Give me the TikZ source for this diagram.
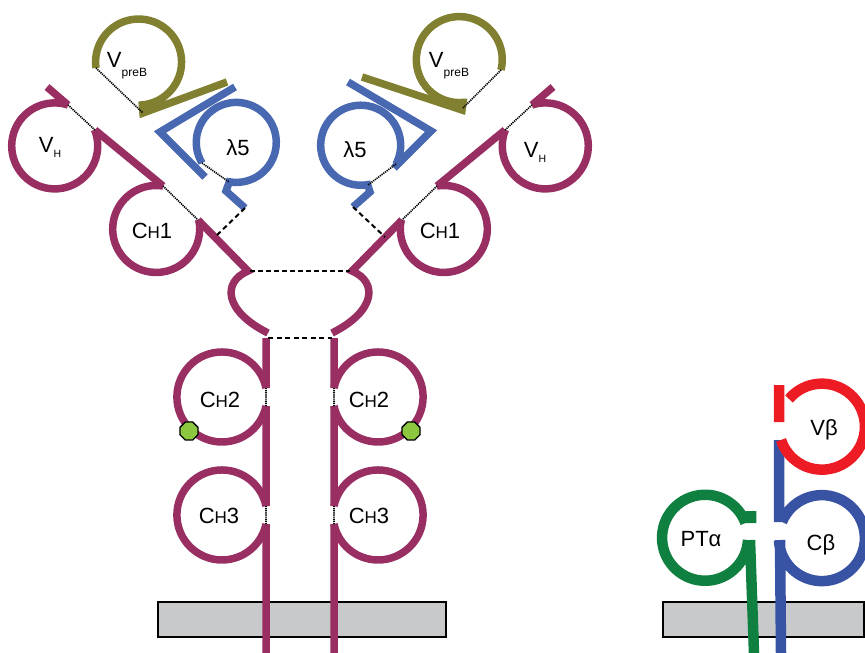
\documentclass[tikz,border=0pt]{standalone}
\usepackage{fontspec}
\setmainfont{Liberation Sans}
\usetikzlibrary{shapes.geometric}

\definecolor{heavy}{RGB}{152,46,98}
\definecolor{vpreb}{RGB}{128,128,48}
\definecolor{lamb}{RGB}{72,104,178}
\definecolor{vbeta}{RGB}{237,28,36}
\definecolor{cbeta}{RGB}{57,83,164}
\definecolor{ptalpha}{RGB}{16,128,64}
\definecolor{sugar}{RGB}{141,198,63}
\definecolor{membrane}{RGB}{200,201,203}

% domain labels: C with a small-cap H, V with a lowered tag
\newcommand{\chname}[1]{C{\fontsize{17}{17}\selectfont H}#1}
\newcommand{\vname}[3]{V\raisebox{-#2pt}{\fontsize{#3}{#3}\selectfont #1}}

\begin{document}
\begin{tikzpicture}[x=1pt, y=-1pt,
  chain/.style={line width=7.5pt},
  tcr/.style={line width=10.5pt},
  ssbond/.style={line width=1.6pt, dash pattern=on 1.2pt off 0.9pt},
  link/.style={line width=2pt, dash pattern=on 5pt off 3.5pt},
  glyco/.style={regular polygon, regular polygon sides=8, minimum size=19.5pt,
    inner sep=0pt, fill=sugar, draw=black, line width=1.4pt},
  lab/.style={font=\fontsize{22}{24}\selectfont, anchor=base, inner sep=0pt}]
\useasboundingbox (0,0) rectangle (865,653);
% membranes
\draw[line width=1.8pt, fill=membrane] (158,602) rectangle (446,637);
\draw[line width=1.8pt, fill=membrane] (663,602) rectangle (864,637);
% two heavy chains, the right one mirrored about x=300
\foreach \s/\off/\nm in {1/0/l, -1/600/r} {
\begin{scope}[xshift=\off pt, xscale=\s]
  \draw[chain, heavy] (47,87) -- (68,105) (95,130) -- (163,186)
    (198,220) -- (248,271) .. controls (222,282) and (224,311) .. (268,333)
    (266,338) -- (266,388) (266,406) -- (266,506) (266,524) -- (266,653);
  \draw[chain, heavy] (68,105) arc[start angle=-72, end angle=-382, radius=43]
    (163,186) arc[start angle=-81, end angle=-372, radius=43.5]
    (266,388) arc[start angle=-11.5, end angle=-348.5, radius=45]
    (266,506) arc[start angle=-11.5, end angle=-348.5, radius=45];
  \draw[ssbond] (68,105) -- (95,130) (163,186) -- (198,220)
    (266,388) -- (266,406) (266,506) -- (266,524);
  \node[glyco] (glyco-\nm) at (189,431) {};
\end{scope}
}
% surrogate light chains
\draw[chain, vpreb] (96,68) arc[start angle=172, end angle=445, radius=43] -- (143,113) -- (227,82);
\draw[chain, vpreb] (501,70) arc[start angle=14, end angle=-275, radius=43] -- (462,110) -- (362,77);
\draw[chain, lamb] (235,87) -- (160,132) -- (205,177);
\draw[chain, lamb] (202,163) arc[start angle=149, end angle=460, radius=40] -- (226,191) -- (245,208);
\draw[chain, lamb] (348,82) -- (431,131) -- (394,168);
\draw[chain, lamb] (396,164) arc[start angle=28, end angle=-280, radius=40] -- (370,192) -- (353,207);
\draw[ssbond] (96,68) -- (143,113) (501,70) -- (463,108) (202,163) -- (229,182) (396,164) -- (368,185);
\draw[link] (245,208) -- (215,237) (353,207) -- (385,237);
% links between the heavy chains
\draw[line width=1.1pt, dash pattern=on 5pt off 3pt] (250,271) -- (350,271);
\draw[link] (268,338) -- (332,338);
% pre-TCR
\draw[tcr, ptalpha] (748,540) arc[start angle=3, end angle=340, radius=43]
  (751,511) -- (751,523) (750,540) -- (754,653);
\draw[tcr, cbeta] (779,440) -- (779,522) (780,540) -- (781,653)
  (782,522) arc[start angle=202, end angle=537, radius=43];
\draw[tcr, vbeta] (779,385) -- (779,422)
  (789,399) arc[start angle=-140, end angle=162, radius=43];
% labels
\node[lab] (vh-l) at (50,152) {\vname{H}{5}{10.5}};
\node[lab] (vh-r) at (535,157) {\vname{H}{5}{10.5}};
\node[lab] (vpreb-l) at (127,67) {\vname{preB}{9}{12}};
\node[lab] (vpreb-r) at (449,67) {\vname{preB}{9}{12}};
\node[lab] (l5-l) at (238,155) {λ5};
\node[lab] (l5-r) at (355,157) {λ5};
\node[lab] (ch1-l) at (152,238) {\chname{1}};
\node[lab] (ch1-r) at (440,238) {\chname{1}};
\node[lab] (ch2-l) at (220,407) {\chname{2}};
\node[lab] (ch2-r) at (369,407) {\chname{2}};
\node[lab] (ch3-l) at (219,523) {\chname{3}};
\node[lab] (ch3-r) at (369,523) {\chname{3}};
\node[lab] (vb) at (824,435) {Vβ};
\node[lab] (cb) at (821,550) {Cβ};
\node[lab] (pta) at (701,546) {PTα};
\end{tikzpicture}
\end{document}
